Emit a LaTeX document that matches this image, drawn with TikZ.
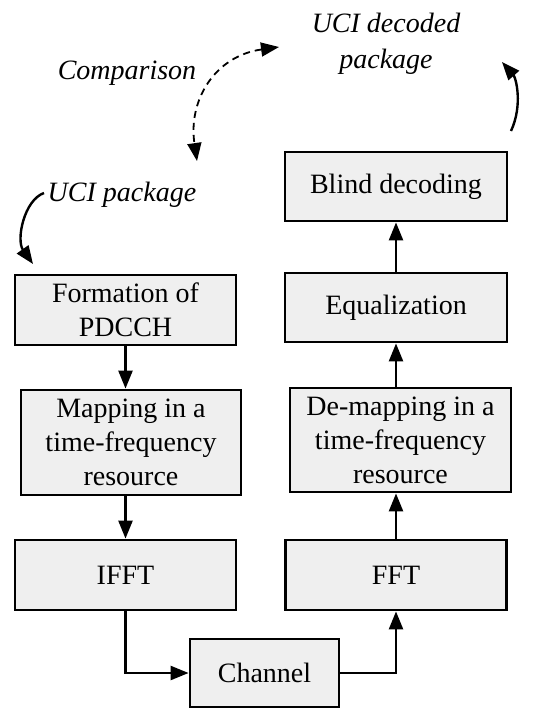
\documentclass[tikz,border=0pt]{standalone}
\usepackage{fontspec}
\setmainfont{Liberation Serif}
\usetikzlibrary{arrows.meta}
\definecolor{boxfill}{HTML}{EFEFEF}
\tikzset{
  blk/.style={draw=black, line width=2.8pt, fill=boxfill, align=center,
    inner sep=0pt, font=\fontsize{28}{34}\selectfont},
  tip/.style={-{Triangle[length=18pt,width=14pt]}},
  flow/.style={line width=2.4pt, tip},
  lbl/.style={font=\fontsize{28}{36}\selectfont\itshape, align=center},
}
\begin{document}
\begin{tikzpicture}[x=1pt,y=-1pt]
\useasboundingbox (0,0) rectangle (549,710);

% transmitter chain
\node[blk, minimum width=221pt, minimum height=70pt] (form) at (125.5,310) {Formation of\\PDCCH};
\node[blk, minimum width=220pt, minimum height=105pt] (map) at (131,442.5) {Mapping in a\\time-frequency\\resource};
\node[blk, minimum width=221pt, minimum height=70pt] (ifft) at (125.5,575) {IFFT};

% channel
\node[blk, minimum width=149pt, minimum height=68pt] (chan) at (264.5,673) {Channel};

% receiver chain
\node[blk, minimum width=221pt, minimum height=70pt] (fft) at (396,575) {FFT};
\node[blk, minimum width=221pt, minimum height=104pt] (demap) at (400.5,440) {De-mapping in a\\time-frequency\\resource};
\node[blk, minimum width=222pt, minimum height=69pt] (equal) at (396,307.5) {Equalization};
\node[blk, minimum width=222pt, minimum height=69pt] (blind) at (396,186.5) {Blind decoding};

% labels
\node[lbl] (dec) at (386,44) {UCI decoded\\package};
\node[lbl] (cmp) at (127,73) {Comparison};
\node[lbl] (pkg) at (122,195) {UCI package};

% flow arrows
\draw[flow] (form.south) -- (form.south |- map.north);
\draw[flow] (ifft.south |- map.south) -- (ifft.north);
\draw[flow] (ifft.south) |- (chan.west);
\draw[flow] (chan.east) -| (fft.south);
\draw[flow] (fft.north) -- (fft.north |- demap.south);
\draw[flow] (equal.south |- demap.north) -- (equal.south);
\draw[flow] (equal.north) -- (blind.south);

% curved arrows near the labels
\coordinate (pkgA) at (44,193);
\coordinate (pkgB) at (33,264);
\draw[flow] (pkgA) .. controls (24,200) and (16,240) .. (pkgB);

\coordinate (decA) at (511,131);
\coordinate (decB) at (502,62);
\draw[flow] (decA) .. controls (523,105) and (516,78) .. (decB);

\coordinate (cmpA) at (279,47);
\coordinate (cmpB) at (197,161);
\draw[line width=1.8pt, dash pattern=on 7pt off 5pt,
  {Triangle[length=18pt,width=14pt]}-{Triangle[length=18pt,width=14pt]}]
  (cmpA) .. controls (215,56) and (188,100) .. (cmpB);
\end{tikzpicture}
\end{document}
